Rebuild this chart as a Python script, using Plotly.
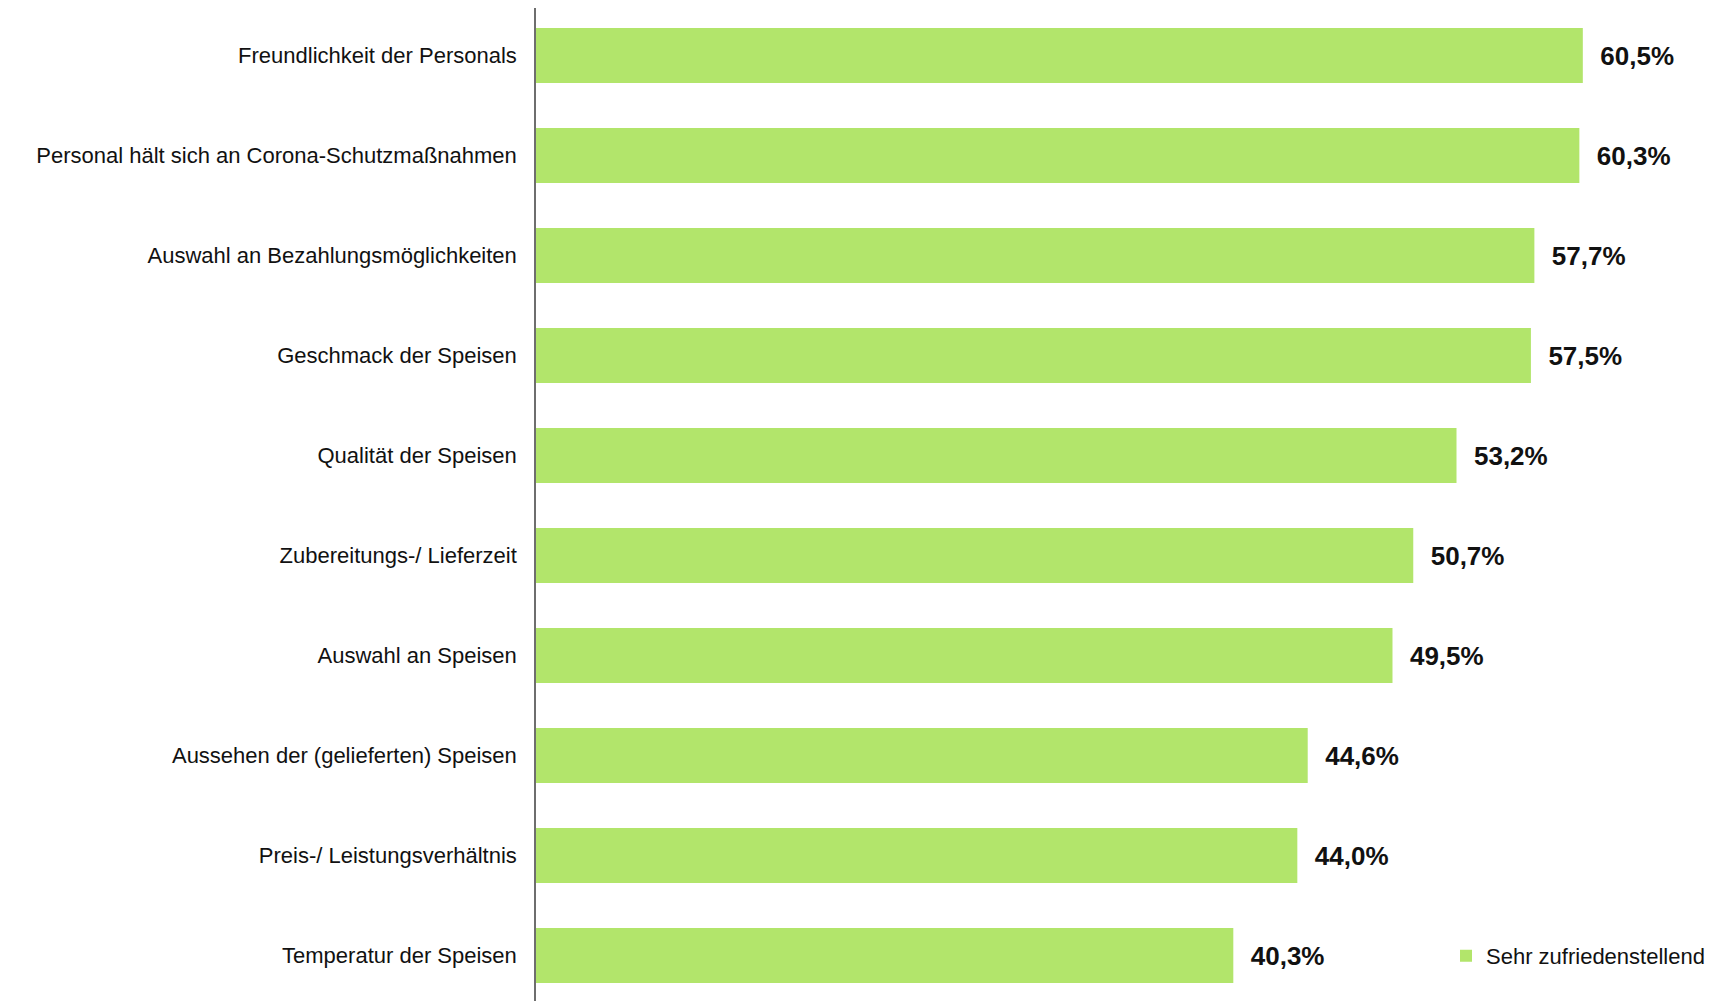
'''
    Horizontal bar chart: share of "Sehr zufriedenstellend" ratings per aspect.
'''

import plotly.graph_objects as go

CATEGORIES = [
    'Freundlichkeit der Personals',
    'Personal hält sich an Corona-Schutzmaßnahmen',
    'Auswahl an Bezahlungsmöglichkeiten',
    'Geschmack der Speisen',
    'Qualität der Speisen',
    'Zubereitungs-/ Lieferzeit',
    'Auswahl an Speisen',
    'Aussehen der (gelieferten) Speisen',
    'Preis-/ Leistungsverhältnis',
    'Temperatur der Speisen',
]
VALUES = [60.5, 60.3, 57.7, 57.5, 53.2, 50.7, 49.5, 44.6, 44.0, 40.3]
SERIES_NAME = 'Sehr zufriedenstellend'

BAR_COLOR = '#b2e56b'
FONT = 'Liberation Sans, Arial, sans-serif'

# value labels with German decimal comma, pushed a bit away from the bar end
labels = ['\u00a0\u00a0' + f'{v:.1f}'.replace('.', ',') + '%' for v in VALUES]

fig = go.Figure()
fig.add_trace(go.Bar(
    x=VALUES,
    y=CATEGORIES,
    orientation='h',
    name=SERIES_NAME,
    marker_color=BAR_COLOR,
    marker_line_width=0,
    text=labels,
    textposition='outside',
    cliponaxis=False,
    textfont=dict(family=FONT, size=26, color='#111111', weight='bold'),
    showlegend=True,
))

# the page body has an 8px margin, so the margins are set 8px smaller
fig.update_layout(
    width=1725,
    height=1001,
    margin=dict(l=528, r=23, t=0, b=0),
    paper_bgcolor='white',
    plot_bgcolor='white',
    bargap=0.45,
    font=dict(family=FONT, color='#111111'),
    showlegend=True,
    legend=dict(
        x=1.0, xanchor='right',
        y=0.053, yanchor='middle',
        font=dict(family=FONT, size=22, color='#111111'),
        bgcolor='rgba(0,0,0,0)',
        itemwidth=30,
    ),
)

fig.update_xaxes(
    range=[0, 67.85],
    showgrid=False,
    showticklabels=False,
    zeroline=False,
    showline=False,
)

fig.update_yaxes(
    categoryorder='array',
    categoryarray=CATEGORIES,
    range=[9.535, -0.475],
    showgrid=False,
    showline=True,
    linecolor='#6e6e6e',
    linewidth=1.5,
    ticks='',
    ticklabelstandoff=13,
    tickfont=dict(family=FONT, size=22, color='#111111'),
)

fig.write_html('out.html')
